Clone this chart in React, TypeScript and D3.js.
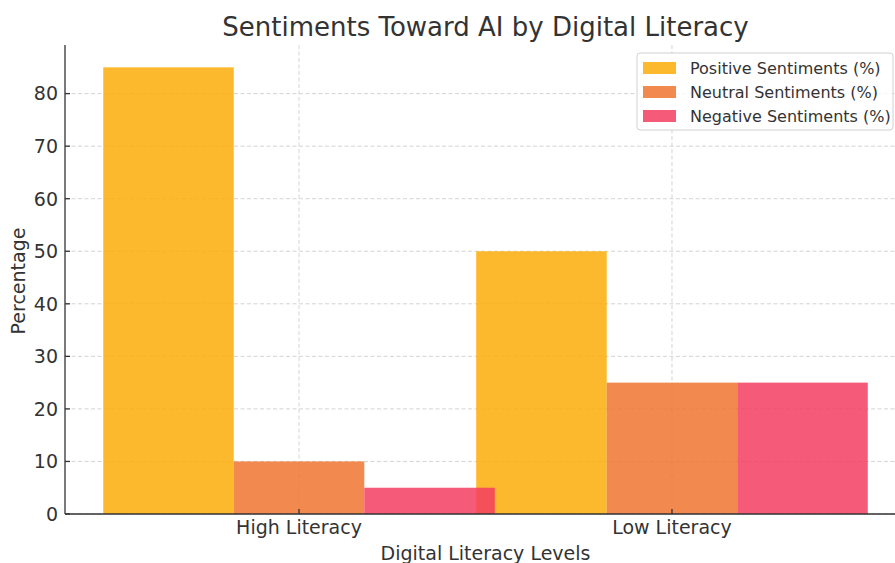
import React from "react";
import * as d3 from "d3";

// Grouped bar chart: sentiment toward AI by digital literacy level
const categories = ["High Literacy", "Low Literacy"];
const seriesNames = [
  "Positive Sentiments (%)",
  "Neutral Sentiments (%)",
  "Negative Sentiments (%)",
];
const positive = [85, 50];
const neutral = [10, 25];
const negative = [5, 25];
const yTicks = [0, 10, 20, 30, 40, 50, 60, 70, 80];
const seriesColors = ["#FDAD09", "#F0742F", "#F33D60"];

const W = 895;
const H = 563;
const margin = { left: 65, top: 45, bottom: 514 };
const barWidth = 0.35;
const FONT = "'DejaVu Sans', sans-serif";
const TEXT = "#333333";

export default function App() {
  const series = [positive, neutral, negative];

  // Category positions are 0, 1, ...; bars sit at offsets -w, 0, +w
  const dataMin = -barWidth - barWidth / 2;
  const dataMax = categories.length - 1 + barWidth + barWidth / 2;
  const pad = (dataMax - dataMin) * 0.05;
  const x = d3
    .scaleLinear()
    .domain([dataMin - pad, dataMax + pad])
    .range([margin.left, 906]);
  const yMax = d3.max(series.flat()) as number;
  const y = d3
    .scaleLinear()
    .domain([0, yMax * 1.05])
    .range([margin.bottom, margin.top]);

  const right = x.range()[1];
  const title = "Sentiments Toward AI by Digital Literacy";

  return (
    <div style={{ position: "absolute", left: 0, top: 0 }}>
      <svg width={W} height={H} style={{ display: "block", background: "#fff" }}>
        <rect x={0} y={0} width={W} height={H} fill="#fff" />
        {/* grid */}
        <g stroke="#cfcfcf" strokeWidth={0.9} strokeDasharray="4,2.5">
          {yTicks.map((t) => (
            <line key={"gy" + t} x1={margin.left} x2={right} y1={y(t)} y2={y(t)} />
          ))}
          {categories.map((c, i) => (
            <line key={"gx" + c} x1={x(i)} x2={x(i)} y1={margin.top} y2={margin.bottom} />
          ))}
        </g>
        {/* bars */}
        <g>
          {series.map((vals, s) =>
            vals.map((v, i) => {
              const cx = i + (s - 1) * barWidth;
              const x0 = x(cx - barWidth / 2);
              const x1 = x(cx + barWidth / 2);
              return (
                <rect
                  key={s + "-" + i}
                  x={x0}
                  y={y(v)}
                  width={x1 - x0}
                  height={y(0) - y(v)}
                  fill={seriesColors[s]}
                  fillOpacity={0.85}
                />
              );
            })
          )}
        </g>
        {/* axes */}
        <g stroke="#333" strokeWidth={1.3}>
          <line x1={margin.left} x2={margin.left} y1={margin.top} y2={margin.bottom} />
          <line x1={margin.left} x2={right} y1={margin.bottom} y2={margin.bottom} />
          {yTicks.map((t) => (
            <line key={"ty" + t} x1={margin.left} x2={margin.left + 5} y1={y(t)} y2={y(t)} />
          ))}
          {categories.map((c, i) => (
            <line key={"tx" + c} x1={x(i)} x2={x(i)} y1={margin.bottom} y2={margin.bottom - 5} />
          ))}
        </g>
        <g fontFamily={FONT} fontSize={19} fill={TEXT}>
          {yTicks.map((t) => (
            <text key={"ly" + t} x={58} y={y(t)} dy="0.36em" textAnchor="end">
              {t}
            </text>
          ))}
          {categories.map((c, i) => (
            <text key={"lx" + c} x={x(i)} y={534} textAnchor="middle">
              {c}
            </text>
          ))}
          <text x={(margin.left + right) / 2} y={560} textAnchor="middle">
            Digital Literacy Levels
          </text>
          <text
            transform={`translate(25,${281}) rotate(-90)`}
            textAnchor="middle"
          >
            Percentage
          </text>
        </g>
        <text
          x={(margin.left + right) / 2}
          y={36}
          textAnchor="middle"
          fontFamily={FONT}
          fontSize={26}
          fill={TEXT}
        >
          {title}
        </text>
        {/* legend */}
        <g fontFamily={FONT} fontSize={16} fill={TEXT}>
          <rect
            x={637}
            y={53}
            width={256}
            height={77}
            rx={3}
            fill="#fff"
            fillOpacity={0.8}
            stroke="#d0d0d0"
            strokeWidth={1}
          />
          {seriesNames.map((name, s) => (
            <g key={name} transform={`translate(0,${68 + s * 24})`}>
              <rect x={643} y={-6} width={33} height={12} fill={seriesColors[s]} fillOpacity={0.85} />
              <text x={690} y={0} dy="0.36em">
                {name}
              </text>
            </g>
          ))}
        </g>
      </svg>
    </div>
  );
}
